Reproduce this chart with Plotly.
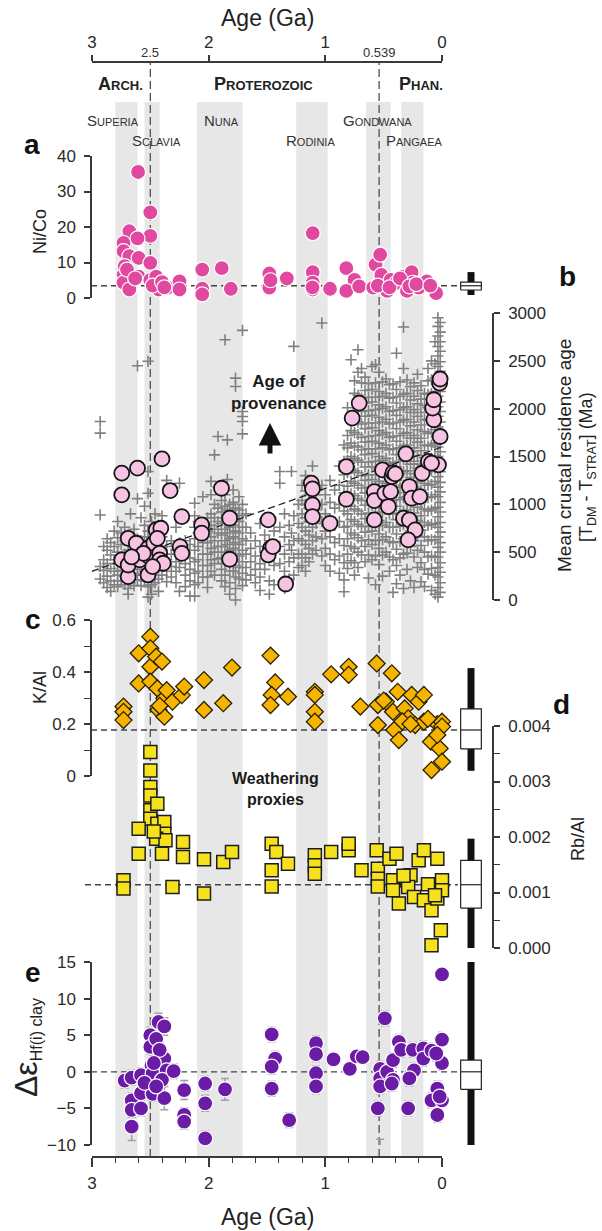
import plotly.graph_objects as go

W, H = 602, 1231
FONT = "Liberation Sans, Arial, sans-serif"


def px(x):
    return x / W


def py(y):
    return 1 - y / H


# ---------------- data ----------------
# Panel a: Ni/Co
a_age = [2.605, 2.50, 2.50, 2.68, 2.73, 2.73, 2.68, 2.60, 2.61, 2.50, 2.73, 2.73, 2.68, 2.60, 2.50, 2.45,
         2.46, 2.43, 2.35, 2.25, 2.25, 2.055, 2.055, 2.055, 1.888, 1.81, 1.48, 1.48, 1.33, 1.108, 1.108,
         1.108, 1.108, 0.96, 0.82, 0.75, 0.82, 0.71, 0.59, 0.57, 0.53, 0.52, 0.47, 0.44, 0.39, 0.30, 0.33,
         0.26, 0.25, 0.20, 0.13, 0.05, 2.72, 2.70, 2.63, 2.48, 2.40, 2.38, 1.47, 1.11, 0.55, 0.45, 0.36,
         0.28, 0.22, 0.10]
a_val = [35.5, 24.1, 17.5, 18.8, 15.5, 13.2, 11.8, 11.3, 16.8, 9.9, 6.6, 4.3, 2.4, 6.0, 5.1, 6.0,
         3.3, 2.4, 2.9, 4.7, 2.4, 8.0, 2.6, 1.0, 8.4, 2.6, 6.9, 2.9, 5.5, 18.3, 7.3,
         4.3, 2.4, 2.6, 8.4, 5.1, 2.0, 3.3, 2.9, 9.4, 12.2, 6.5, 2.0, 5.1, 4.3, 2.0, 6.0,
         7.3, 4.3, 2.9, 4.7, 1.4, 9.0, 8.0, 5.5, 3.5, 4.5, 3.0, 5.0, 3.0, 3.5, 3.0, 5.5,
         3.3, 3.9, 3.5]

# Panel b: mean crustal residence age of clays (circles)
b_age = [2.745, 2.61, 2.40, 2.745, 2.33, 2.23, 2.06, 2.06, 1.89, 1.82, 1.82, 1.49, 1.47, 1.49, 1.45,
         1.34, 1.12, 1.11, 1.11, 1.11, 0.96, 0.82, 0.82, 0.77, 0.71, 0.58, 0.58, 0.58, 0.51, 0.49, 0.43,
         0.42, 0.44, 0.46, 0.31, 0.28, 0.26, 0.19, 0.17, 0.33, 0.28, 0.23, 0.29, 0.117, 0.03, 0.016,
         0.07, 0.08, 0.07, 0.02, 0.016, 2.69, 2.745, 2.69, 2.69, 2.62, 2.59, 2.52, 2.52, 2.51, 2.47,
         2.45, 2.41, 2.44, 2.42, 2.42, 2.39, 2.48, 2.56, 2.245, 2.23, 2.66, 0.09, 0.40]
b_val = [1326, 1378, 1475, 1099, 1144, 872, 785, 698, 1168, 855, 426, 837, 541, 471, 558,
         167, 1221, 1162, 994, 872, 802, 1395, 1053, 1901, 2058, 1133, 1039, 837, 1360, 1116, 1290,
         1332, 1133, 977, 1528, 1186, 1064, 1081, 1325, 855, 837, 732, 628, 1448, 1413, 1709,
         1884, 2006, 2093, 2267, 2310, 645, 419, 244, 366, 593, 419, 541, 262, 453, 593,
         732, 750, 645, 488, 419, 384, 349, 488, 558, 488, 450, 1430, 1318]

# Trend line of panel b (end points)
trend_age = [3.0, 0.0]
trend_val = [300, 1600]

# Panel b: detrital zircon crosses, grouped in vertical stacks (age, values)
tdm_old_cols = [2.95, 2.93, 2.90, 2.87, 2.84, 2.81, 2.78, 2.75, 2.72, 2.69, 2.67, 2.64, 2.61, 2.58, 2.55,
                2.52, 2.49, 2.46, 2.43, 2.40, 2.36, 2.32, 2.28, 2.25, 2.20, 2.16, 2.12, 2.09, 2.05, 2.01,
                1.98, 1.95, 1.92, 1.89, 1.86, 1.84, 1.82, 1.79, 1.77, 1.74, 1.71, 1.68, 1.64, 1.60, 1.56,
                1.52, 1.48, 1.44, 1.39, 1.35, 1.31, 1.29, 1.27, 1.23, 1.20, 1.17, 1.14, 1.11, 1.08, 1.03]
tdm_old_vals = [
    [-30],
    [1866, 1744, 889, 350, 220, -387],
    [420, 310, 180, 560],
    [520, 380, 250, 130, 640],
    [470, 330, 600, 200, 90],
    [560, 420, 300, 720, 160, -30],
    [380, 500, 260, 650, 820, 140],
    [310, 450, 580, 200, 700, 390],
    [250, 340, 480, 620, 160, 760, 430],
    [300, 400, 520, 220, 680, 120, 60],
    [360, 470, 590, 270, 900, 180, -30],
    [410, 530, 280, 740, 150],
    [2448, 440, 560, 320, 1060, 210, 640],
    [380, 500, 620, 260, 860, 150, -30],
    [420, 540, 660, 300, 780, 200, 980],
    [2495, 360, 480, 600, 720, 250, 140, 1343, 1116, 30],
    [380, 500, 640, 820, 260, 160, 60],
    [420, 560, 700, 300, 900, 180],
    [460, 600, 340, 780, 220, 90],
    [380, 520, 660, 260, 880],
    [420, 300, 560, 190, 1250],
    [350, 480, 620, 240],
    [400, 300, 520, 180, 760],
    [1221, 460, 340, 600, 90],
    [380, 500, 260, 620, 140],
    [440, 320, 580, 200, 40],
    [1012, 880, 760, 640, 520, 400, 280, 160, 40, -20, -125],
    [700, 560, 420, 300, 820, 180],
    [600, 480, 360, 240, 1080],
    [720, 600, 480, 360, 860, 240, 130],
    [900, 780, 660, 540, 420, 300, 1100, 1240],
    [1517, 1000, 860, 740, 620, 500, 380, 260],
    [1709, 1180, 960, 820, 700, 560, 430],
    [1040, 920, 800, 680, 560, 440, 320, 200],
    [2720, 1100, 980, 860, 740, 620, 500, 380, 260, 140],
    [1674, 1260, 940, 820, 700, 580, 460],
    [1000, 880, 760, 640, 520, 400, 300, 180, 60],
    [1150, 1020, 900, 780, 660, 540, 420, 300, -20],
    [2319, 2232, 960, 840, 720, 600, 480, 360, 240, 120, 0, -140],
    [1080, 940, 820, 700, 580, 460, 340, 220, -120],
    [2818, 1971, 1918, 1866, 1737, 1000, 880, 760, 640, 520, 400, 280, 150],
    [900, 760, 620, 480, 340, 210],
    [700, 540, 400, 260],
    [620, 460, 320, 180],
    [800, 560, 380, 240, 100],
    [680, 500, 320],
    [860, 620, 420, 200, 60],
    [720, 540, 360, 160],
    [1343, 1221, 760, 560, 380],
    [900, 660, 480, 300, 120],
    [780, 580, 400, 220],
    [1343, 700, 520],
    [2651, 880, 620, 440, 260],
    [1000, 800, 640, 480, 340],
    [1200, 1040, 900, 760, 620, 480, 360],
    [1300, 1140, 1000, 860, 720, 580, 440, 300],
    [1250, 1100, 960, 820, 680, 540, 400],
    [1400, 1180, 1040, 900, 760, 620, 480],
    [1100, 940, 800, 660, 520],
    [2895, 1200, 1000, 820, 640, 460],
]
tdm_young_cols = [1.00, 0.96, 0.92, 0.88, 0.84, 0.81, 0.78, 0.75, 0.72, 0.69, 0.66, 0.63, 0.60, 0.57,
                  0.54, 0.51, 0.48, 0.45, 0.42, 0.39, 0.36, 0.33, 0.30, 0.27, 0.24, 0.21, 0.18, 0.15,
                  0.12, 0.09, 0.06, 0.035, 0.015]
tdm_young_vals = [
    [1100, 900, 720, 540, 360],
    [1250, 1020, 840, 660, 480, 300],
    [1150, 960, 780, 600, 420],
    [1400, 1200, 1000, 820, 640, 460, 280],
    [1620, 1450, 1310, 1120, 930, 760, 570, 390, 210, 87],
    [2010, 1720, 1590, 1460, 1330, 1190, 1050, 900, 770, 640, 480, 330, -10],
    [2511, 1900, 1770, 1640, 1500, 1370, 1240, 1110, 980, 840, 700, 560, 410],
    [2290, 2160, 1880, 1750, 1610, 1480, 1350, 1220, 1090, 950, 820, 680, 540, 390, 260],
    [2616, 2380, 2140, 2000, 1860, 1730, 1600, 1460, 1330, 1200, 1060, 930, 790, 650, 500, 340],
    [2420, 2270, 2110, 1970, 1840, 1700, 1570, 1440, 1300, 1170, 1040, 900, 770, 620, 470],
    [2330, 2190, 2060, 1920, 1790, 1650, 1520, 1390, 1250, 1120, 990, 850, 710, 560, 400],
    [2260, 2120, 1980, 1850, 1710, 1580, 1440, 1310, 1180, 1040, 910, 770, 630, 470, 230],
    [2440, 2200, 2070, 1930, 1800, 1660, 1530, 1390, 1260, 1130, 990, 860, 720, 580, 420],
    [2460, 2270, 2120, 1990, 1850, 1720, 1580, 1450, 1310, 1180, 1050, 910, 770, 620, 460, 160],
    [2380, 2180, 2040, 1910, 1770, 1640, 1500, 1370, 1240, 1100, 970, 830, 690, 540, 370],
    [2280, 2130, 2000, 1860, 1730, 1590, 1460, 1330, 1190, 1060, 920, 780, 630, 470, 250],
    [2310, 2160, 2020, 1890, 1750, 1620, 1480, 1350, 1220, 1080, 950, 810, 660, 500],
    [2250, 2110, 1970, 1840, 1700, 1570, 1430, 1300, 1170, 1030, 900, 760, 610, 450, 300],
    [2260, 2120, 1980, 1850, 1710, 1580, 1440, 1310, 1180, 1040, 900, 760, 600, 420, 80],
    [2580, 2200, 2060, 1930, 1790, 1660, 1520, 1390, 1250, 1120, 980, 840, 690, 530, 360, 170],
    [2280, 2130, 1990, 1860, 1720, 1590, 1450, 1320, 1180, 1050, 910, 770, 610, 440, 260],
    [2853, 2420, 2150, 2010, 1880, 1740, 1610, 1470, 1340, 1200, 1070, 930, 790, 640, 480, 120],
    [2300, 2160, 2020, 1890, 1750, 1620, 1480, 1350, 1210, 1080, 940, 800, 650, 490, 320],
    [2230, 2090, 1960, 1820, 1690, 1550, 1420, 1280, 1150, 1010, 870, 720, 560, 200],
    [2270, 2130, 1990, 1860, 1720, 1590, 1450, 1320, 1180, 1050, 910, 770, 620, 450, 130],
    [2360, 2190, 2050, 1920, 1780, 1650, 1510, 1380, 1240, 1110, 970, 830, 680, 520, 340],
    [2240, 2100, 1960, 1830, 1690, 1560, 1420, 1290, 1150, 1020, 880, 730, 570, 390, 190],
    [2160, 2030, 1890, 1760, 1620, 1490, 1350, 1220, 1080, 950, 810, 660, 500, 320, 140],
    [2420, 2290, 2150, 2010, 1880, 1740, 1610, 1470, 1340, 1200, 1070, 930, 780, 620, 450, 270],
    [2500, 2300, 2160, 2020, 1890, 1750, 1620, 1480, 1350, 1210, 1080, 940, 790, 630, 460, 330, 100],
    [2700, 2470, 2320, 2180, 2050, 1910, 1780, 1640, 1510, 1370, 1240, 1100, 960, 800, 630, 450, 260, 60, -30],
    [2950, 2860, 2760, 2650, 2550, 2440, 2340, 2230, 2130, 2020, 1920, 1810, 1710, 1600, 1500, 1390,
     1290, 1180, 1080, 970, 870, 760, 660, 550, 450, 340, 240, 130, 30],
    [2900, 2800, 2700, 2600, 2490, 2390, 2280, 2180, 2070, 1970, 1860, 1760, 1650, 1550, 1440, 1340,
     1230, 1130, 1020, 920, 810, 710, 600, 500, 390, 290, 180, 80, -100],
]

# Panel c: K/Al
c_age = [2.73, 2.73, 2.73, 2.60, 2.60, 2.50, 2.50, 2.50, 2.50, 2.45, 2.40, 2.44, 2.43, 2.38, 2.38, 2.31,
         2.23, 2.21, 2.04, 2.04, 1.875, 1.80, 1.47, 1.43, 1.46, 1.47, 1.32, 1.09, 1.09, 1.09, 1.09, 0.95,
         0.80, 0.80, 0.70, 0.56, 0.55, 0.55, 0.43, 0.48, 0.42, 0.41, 0.37, 0.38, 0.32, 0.29, 0.26, 0.20,
         0.155, 0.23, 0.155, 0.095, 0.04, 0.02, 0.0, 0.0, 0.09, 0.0, 0.04, 2.42, 2.36, 0.50, 0.34, 0.27,
         0.12]
c_val = [0.267, 0.247, 0.215, 0.356, 0.472, 0.536, 0.491, 0.42, 0.363, 0.459, 0.44, 0.337, 0.254, 0.299,
         0.228, 0.286, 0.311, 0.344, 0.369, 0.254, 0.28, 0.417, 0.463, 0.36, 0.312, 0.273, 0.305, 0.324,
         0.312, 0.247, 0.209, 0.391, 0.42, 0.389, 0.267, 0.433, 0.273, 0.196, 0.395, 0.286, 0.247, 0.177,
         0.138, 0.324, 0.26, 0.222, 0.312, 0.286, 0.312, 0.196, 0.209, 0.132, 0.2, 0.106, 0.209, 0.055,
         0.023, 0.19, 0.158, 0.27, 0.33, 0.29, 0.21, 0.20, 0.22]

# Panel d: Rb/Al
d_age = [2.50, 2.50, 2.50, 2.50, 2.50, 2.50, 2.44, 2.44, 2.38, 2.38, 2.45, 2.37, 2.60, 2.60, 2.40, 2.22,
         2.22, 2.73, 2.73, 2.31, 2.04, 2.04, 1.875, 1.80, 1.46, 1.42, 1.32, 1.46, 1.46, 1.09, 1.09, 1.09,
         0.95, 0.80, 0.80, 0.69, 0.56, 0.55, 0.55, 0.55, 0.45, 0.39, 0.42, 0.42, 0.37, 0.30, 0.27, 0.29,
         0.24, 0.20, 0.155, 0.155, 0.09, 0.04, 0.04, 0.04, 0.0, 0.01, 0.09, 0.0, 2.47, 0.33, 0.12, 0.06]
d_val = [0.00353, 0.00320, 0.00290, 0.00275, 0.00248, 0.00233, 0.00260, 0.00224, 0.00227, 0.00206,
         0.00197, 0.00194, 0.00215, 0.00170, 0.00170, 0.00191, 0.00164, 0.00122, 0.00107, 0.00110,
         0.00160, 0.00098, 0.00155, 0.00173, 0.00188, 0.00173, 0.00152, 0.00140, 0.00111, 0.00167,
         0.00149, 0.00134, 0.00173, 0.00176, 0.00188, 0.00140, 0.00176, 0.00143, 0.00125, 0.00111,
         0.00161, 0.00170, 0.00122, 0.00104, 0.00080, 0.00122, 0.00131, 0.00110, 0.00092, 0.00158,
         0.00176, 0.00086, 0.00068, 0.00161, 0.00110, 0.00089, 0.00122, 0.00032, 0.00005, 0.00104,
         0.00210, 0.00130, 0.00115, 0.00095]

# Panel e: delta epsilon Hf(i) clay
e_age = [2.72, 2.66, 2.58, 2.66, 2.66, 2.66, 2.58, 2.58, 2.50, 2.50, 2.49, 2.48, 2.48, 2.45, 2.43, 2.38,
         2.41, 2.38, 2.36, 2.40, 2.38, 2.30, 2.21, 2.21, 2.21, 2.03, 2.03, 2.03, 1.86, 1.46, 1.43, 1.46,
         1.46, 1.31, 1.08, 1.08, 1.08, 1.08, 0.93, 0.79, 0.73, 0.68, 0.53, 0.53, 0.53, 0.55, 0.53, 0.49,
         0.47, 0.42, 0.42, 0.37, 0.35, 0.29, 0.27, 0.24, 0.25, 0.16, 0.16, 0.09, 0.04, 0.09, 0.04, 0.0,
         0.0, 0.0, 0.0, 2.55, 2.45, 2.42, 2.47, 0.43, 0.28, 0.05, 0.02]
e_val = [-1.2, -0.8, -0.45, -3.9, -5.2, -7.5, -2.9, -5.0, 5.0, 3.4, 0.9, -0.2, -3.0, 4.5, 6.8, 6.2,
         2.7, 1.8, 0.2, -1.1, -3.6, 0.1, -2.5, -5.9, -6.8, -1.6, -4.3, -9.1, -2.4, 5.1, 1.8, 0.7,
         -2.3, -6.6, 3.9, 2.4, -0.2, -2.0, 1.7, 0.4, 2.1, 2.0, 0.4, -0.9, -2.0, -5.0, -10.2, 7.3,
         0.0, 1.6, -1.1, 4.1, 3.0, -5.0, -0.5, 0.2, 3.0, 3.2, 1.8, 2.9, -2.3, -3.9, -5.9, 4.4,
         1.2, -3.9, 13.3, -1.5, -2.0, 3.0, 1.2, -1.6, -0.9, 2.5, -3.4]
e_err = [1.0, 1.0, 1.0, 1.0, 1.0, 1.9, 1.0, 1.0, 1.1, 1.0, 1.0, 1.0, 1.0, 1.0, 1.2, 1.2,
         1.0, 1.0, 1.0, 1.0, 1.6, 1.0, 1.3, 1.0, 1.0, 1.0, 1.1, 1.0, 1.5, 1.0, 1.0, 1.0,
         1.0, 1.0, 1.0, 1.0, 1.0, 1.0, 0.8, 0.8, 0.8, 0.8, 1.0, 1.0, 1.0, 1.0, 1.0, 1.0,
         1.0, 1.0, 1.0, 1.0, 1.0, 1.0, 1.0, 1.0, 1.0, 1.0, 1.0, 1.0, 1.0, 1.0, 1.0, 1.0,
         1.0, 1.0, 0.8, 1.0, 1.0, 1.0, 1.0, 1.0, 1.0, 1.0, 1.0]

# Box plots (panels a, c, d, e): whisker low, q1, median, q3, whisker high
box_axis = ["y", "y3", "y4", "y5"]
box_lo = [0.85, 0.02, 0.0, -10.3]
box_q1 = [2.25, 0.104, 0.00072, -2.4]
box_med = [3.45, 0.177, 0.00114, 0.0]
box_q3 = [4.5, 0.258, 0.00158, 1.6]
box_hi = [7.3, 0.415, 0.00197, 15.2]

# Supercontinent intervals (Ga)
band_start = [2.80, 2.55, 2.10, 1.25, 0.65, 0.35]
band_end = [2.61, 2.42, 1.71, 0.98, 0.44, 0.16]
boundary_ages = [2.5, 0.539]

# ---------------- figure ----------------
fig = go.Figure()

tdm_age, tdm_val = [], []
for cols, vals in ((tdm_old_cols, tdm_old_vals), (tdm_young_cols, tdm_young_vals)):
    for a, vs in zip(cols, vals):
        tdm_age += [a] * len(vs)
        tdm_val += vs

fig.add_trace(go.Scatter(x=tdm_age, y=tdm_val, xaxis="x", yaxis="y2", mode="markers", cliponaxis=False,
                         marker=dict(symbol="cross-thin", size=8, color="#808080",
                                     line=dict(width=1.6, color="#808080"))))
fig.add_trace(go.Scatter(x=trend_age, y=trend_val, xaxis="x", yaxis="y2", mode="lines",
                         line=dict(color="#222", width=1.3, dash="7px,4px")))
fig.add_trace(go.Scatter(x=b_age, y=b_val, xaxis="x", yaxis="y2", mode="markers", cliponaxis=False,
                         marker=dict(symbol="circle", size=15, color="#f6c3e3",
                                     line=dict(width=1.8, color="#151515"))))
fig.add_trace(go.Scatter(x=a_age, y=a_val, xaxis="x", yaxis="y", mode="markers", cliponaxis=False,
                         marker=dict(symbol="circle", size=15, color="#e0499f",
                                     line=dict(width=1.2, color="white"))))
fig.add_trace(go.Scatter(x=c_age, y=c_val, xaxis="x", yaxis="y3", mode="markers", cliponaxis=False,
                         marker=dict(symbol="diamond", size=13, color="#f6b400",
                                     line=dict(width=1.3, color="#2a2000"))))
fig.add_trace(go.Scatter(x=d_age, y=d_val, xaxis="x", yaxis="y4", mode="markers", cliponaxis=False,
                         marker=dict(symbol="square", size=13, color="#f5e11c",
                                     line=dict(width=1.5, color="#1e1e1e"))))
fig.add_trace(go.Scatter(x=e_age, y=e_val, xaxis="x", yaxis="y5", mode="markers", cliponaxis=False,
                         error_y=dict(type="data", array=e_err, color="#a0a0a0", thickness=1.5, width=4),
                         marker=dict(symbol="circle", size=15, color="#6b1ca6",
                                     line=dict(width=1.2, color="white"))))

# box plots
for ax, lo, q1, md, q3, hi in zip(box_axis, box_lo, box_q1, box_med, box_q3, box_hi):
    fig.add_trace(go.Scatter(x=[0.5, 0.5], y=[lo, hi], xaxis="x3", yaxis=ax, mode="lines",
                             line=dict(color="#111", width=7)))
    fig.add_trace(go.Scatter(x=[0.03, 0.97, 0.97, 0.03, 0.03], y=[q1, q1, q3, q3, q1], xaxis="x3", yaxis=ax,
                             mode="lines", fill="toself", fillcolor="white", line=dict(color="#222", width=1.2)))
    fig.add_trace(go.Scatter(x=[0.03, 0.97], y=[md, md], xaxis="x3", yaxis=ax, mode="lines",
                             line=dict(color="#222", width=1.2)))

# dummy to register the top age axis
fig.add_trace(go.Scatter(x=[None], y=[None], xaxis="x2", yaxis="y", mode="markers"))

shapes = []
for s, e in zip(band_start, band_end):
    shapes.append(dict(type="rect", xref="x", yref="paper", x0=s, x1=e, y0=py(1157), y1=py(102),
                       fillcolor="#e7e7e7", line=dict(width=0), layer="below"))
for b in boundary_ages:
    shapes.append(dict(type="line", xref="x", yref="paper", x0=b, x1=b, y0=py(1157), y1=py(62),
                       line=dict(color="#505050", width=1.3, dash="8px,4px"), layer="below"))
# median reference lines
for ax, md, xs, xe in zip(box_axis, box_med, [91, 91, 85, 91], [460, 460, 458, 460]):
    shapes.append(dict(type="line", xref="paper", yref=ax, x0=px(xs), x1=px(xe), y0=md, y1=md,
                       line=dict(color="#444", width=1.3, dash="6px,4px"), layer="below"))

TICKC = "#3a3a3a"
tickfont = dict(family=FONT, size=17, color="#2a2a2a")


def yax(domain, rng, pos, side="left", **kw):
    d = dict(domain=[py(domain[0]), py(domain[1])], range=rng, anchor="free", position=px(pos), side=side,
             showline=True, linecolor=TICKC, linewidth=1.5, ticks="outside", ticklen=6, tickwidth=1.5,
             tickcolor=TICKC, tickfont=tickfont, showgrid=False, zeroline=False, automargin=False,
             ticklabelstandoff=5)
    d.update(kw)
    return d


layout = dict(
    width=W, height=H, margin=dict(l=0, r=0, t=0, b=0), template="none",
    paper_bgcolor="white", plot_bgcolor="rgba(0,0,0,0)", showlegend=False,
    font=dict(family=FONT, color="#222"),
    xaxis=dict(domain=[px(92), px(442)], range=[3, 0], anchor="free", position=py(1157),
               showline=True, linecolor=TICKC, linewidth=1.5, ticks="outside", ticklen=9, tickwidth=1.5,
               tickcolor=TICKC, tickvals=[3, 2, 1, 0], tickfont=tickfont, showgrid=False, zeroline=False,
               automargin=False, ticklabelstandoff=2,
               minor=dict(dtick=0.2, tick0=0, ticks="outside", ticklen=5, tickwidth=1.2, tickcolor=TICKC,
                          showgrid=False)),
    xaxis2=dict(overlaying="x", side="top", range=[3, 0], anchor="free", position=py(62),
                showline=True, linecolor=TICKC, linewidth=1.5, ticks="outside", ticklen=6, tickwidth=1.5,
                tickcolor=TICKC, tickvals=[3, 2, 1, 0], tickfont=tickfont, showgrid=False, zeroline=False,
                automargin=False, ticklabelstandoff=0),
    xaxis3=dict(domain=[px(460), px(482)], range=[0, 1], anchor="free", position=0, visible=False),
    yaxis=yax((298, 156), [0, 40], 91, tickvals=[0, 10, 20, 30, 40]),
    yaxis2=yax((600, 313), [0, 3000], 493, side="right", tickvals=[0, 500, 1000, 1500, 2000, 2500, 3000]),
    yaxis3=yax((776, 620), [0, 0.6], 91, tickvals=[0, 0.2, 0.4, 0.6], ticktext=["0", "0.2", "0.4", "0.6"],
               minor=dict(dtick=0.1, tick0=0, ticks="outside", ticklen=6, tickwidth=1.2, tickcolor=TICKC,
                          showgrid=False)),
    yaxis4=yax((948, 726), [0, 0.004], 493, side="right", tickvals=[0, 0.001, 0.002, 0.003, 0.004],
               ticktext=["0.000", "0.001", "0.002", "0.003", "0.004"],
               minor=dict(dtick=0.0005, tick0=0, ticks="outside", ticklen=6, tickwidth=1.2, tickcolor=TICKC,
                          showgrid=False)),
    yaxis5=yax((1145, 962), [-10, 15], 91, tickvals=[-10, -5, 0, 5, 10, 15]),
    shapes=shapes,
)

ann = []


def txt(x, y, text, size=17, angle=0, color="#222", xanchor="center", yanchor="middle"):
    ann.append(dict(x=px(x), y=py(y), xref="paper", yref="paper", text=text, showarrow=False,
                    textangle=angle, xanchor=xanchor, yanchor=yanchor,
                    font=dict(family=FONT, size=size, color=color)))


def sc(word, big, small):
    return word[0] + "<span style='font-size:%dpx'>%s</span>" % (small, word[1:].upper())


txt(267, 18, "Age (Ga)", size=23)
txt(150, 53, "2.5", size=13, color="#333")
txt(379, 53, "0.539", size=13, color="#333")
txt(120, 84, "<b>" + sc("Arch.", 18, 13) + "</b>", size=18)
txt(263, 84, "<b>" + sc("Proterozoic", 18, 13) + "</b>", size=18)
txt(421, 84, "<b>" + sc("Phan.", 18, 13) + "</b>", size=18)
txt(113, 120, sc("Superia", 15, 11), size=15, color="#333")
txt(222, 120, sc("Nuna", 15, 11), size=15, color="#333")
txt(377, 120, sc("Gondwana", 15, 11), size=15, color="#333")
txt(156, 141, sc("Sclavia", 15, 11), size=15, color="#333")
txt(310, 141, sc("Rodinia", 15, 11), size=15, color="#333")
txt(414, 141, sc("Pangaea", 15, 11), size=15, color="#333")

txt(32, 144, "<b>a</b>", size=28, color="#111")
txt(567, 277, "<b>b</b>", size=28, color="#111")
txt(33, 619, "<b>c</b>", size=28, color="#111")
txt(561, 704, "<b>d</b>", size=28, color="#111")
txt(33, 972, "<b>e</b>", size=28, color="#111")

txt(40, 232, "Ni/Co", size=18, angle=-90)
txt(565, 456, "Mean crustal residence age", size=19, angle=-90)
txt(588, 467, "[T<sub>DM</sub> - T<sub>STRAT</sub>] (Ma)", size=18, angle=-90)
txt(40, 688, "K/Al", size=18, angle=-90)
txt(578, 839, "Rb/Al", size=18, angle=-90)
txt(26, 1047, "<span style='font-size:32px'>Δε</span><sub>Hf(i) clay</sub>", size=23, angle=-90)
txt(267, 1217, "Age (Ga)", size=23)

txt(278, 392, "<b>Age of<br>provenance</b>", size=17, color="#1a1a1a")
txt(275, 789, "<b>Weathering<br>proxies</b>", size=16, color="#1a1a1a")

ann.append(dict(x=px(270), y=py(423), xref="paper", yref="paper", ax=0, ay=32, axref="pixel", ayref="pixel",
                text="", showarrow=True, arrowhead=2, arrowsize=0.9, arrowwidth=5, arrowcolor="#111"))

layout["annotations"] = ann
fig.update_layout(**layout)
fig.write_html("out.html", config={"displayModeBar": False},
               post_script="document.body.style.margin='0px';")
